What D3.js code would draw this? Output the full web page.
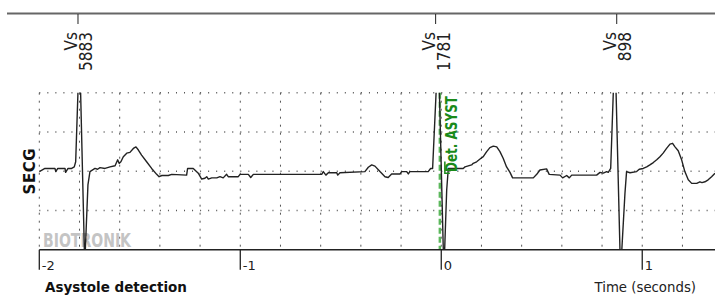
<!DOCTYPE html>
<html lang="en">
<head>
  <meta charset="utf-8">
  <title>Asystole detection</title>
  <script src="https://d3js.org/d3.v7.min.js"></script>
  <style>
    body { margin: 0; background: #fff; }
    svg { display: block; }
    .narrow { font-family: "Liberation Sans Narrow", "DejaVu Sans Condensed", sans-serif; }
    .din { font-family: "DejaVu Sans", sans-serif; }
  </style>
</head>
<body>
  <svg width="715" height="295"></svg>

  <script>
  // ECG samples (seconds, grid units)
  const ecgTime = [
    -2.000, -1.972, -1.922, -1.918, -1.908, -1.872, -1.869, -1.857, -1.839, -1.826, -1.819,
    -1.800, -1.774, -1.758, -1.748,
    -1.723, -1.710, -1.698, -1.673, -1.648, -1.623, -1.610, -1.603, -1.594, -1.582, -1.565,
    -1.549, -1.532, -1.519, -1.507, -1.491, -1.466, -1.441, -1.416, -1.404, -1.390, -1.358,
    -1.341, -1.267, -1.262, -1.234, -1.209, -1.192, -1.176, -1.167, -1.159, -1.142, -1.117,
    -1.101, -1.085, -1.068, -1.060, -1.010, -1.001, -0.960, -0.948, -0.935,
    -0.595, -0.587, -0.574, -0.562, -0.520, -0.515, -0.504, -0.380, -0.363, -0.346, -0.330,
    -0.305, -0.280, -0.264, -0.247, -0.205, -0.197, -0.172, -0.164, -0.156, -0.065, -0.053, -0.043,
    -0.015, 0.013, 0.027, 0.035,
    0.109, 0.118, 0.151, 0.159, 0.176, 0.193, 0.209, 0.226, 0.242, 0.259, 0.276, 0.292,
    0.308, 0.325, 0.342, 0.355, 0.458, 0.475, 0.491, 0.524, 0.537, 0.591, 0.604, 0.624,
    0.637, 0.649, 0.773, 0.790, 0.806, 0.823, 0.831, 0.843,
    0.864, 0.892, 0.914, 0.922,
    0.939, 0.972, 0.985, 1.005, 1.022, 1.038, 1.055, 1.072, 1.088, 1.104, 1.121, 1.138,
    1.151, 1.163, 1.179, 1.196, 1.212, 1.229, 1.246, 1.271, 1.287, 1.297, 1.312, 1.328,
    1.345, 1.362
  ];
  const ecgAmp = [
    -0.01, 0.07, 0.07, -0.01, 0.07, 0.07, -0.03, 0.07, 0.07, 0.11, 0.24,
    3.20, -2.39, -0.35, -0.01,
    0.07, 0.05, 0.09, 0.07, 0.11, 0.14, 0.29, 0.20, 0.24, 0.37, 0.46,
    0.48, 0.58, 0.62, 0.54, 0.41, 0.24, 0.07, -0.08, -0.14, -0.11, -0.11,
    -0.08, -0.10, 0.07, 0.07, -0.05, -0.20, -0.18, -0.14, -0.20, -0.17, -0.17,
    -0.14, -0.17, -0.08, -0.14, -0.14, -0.08, -0.08, -0.16, -0.08,
    -0.08, -0.01, -0.10, -0.04, -0.04, -0.10, -0.04, -0.01, 0.10, 0.16, 0.13,
    -0.01, -0.14, -0.16, -0.07, -0.07, -0.01, -0.01, -0.07, -0.01, -0.01, 0.07, 0.07,
    3.20, -2.59, -0.48, 0.07,
    0.07, 0.11, 0.16, 0.20, 0.24, 0.31, 0.37, 0.50, 0.60, 0.64, 0.62, 0.50,
    0.33, 0.11, -0.03, -0.17, -0.17, -0.08, 0.03, 0.06, -0.08, -0.10, -0.17, -0.11,
    -0.17, -0.10, -0.10, -0.03, -0.05, -0.01, -0.03, 0.07,
    3.20, -2.59, -0.56, -0.01,
    -0.04, -0.01, 0.05, 0.07, 0.11, 0.16, 0.22, 0.29, 0.37, 0.46, 0.58, 0.69,
    0.71, 0.62, 0.52, 0.29, -0.01, -0.22, -0.31, -0.31, -0.27, -0.29, -0.27, -0.22,
    -0.14, -0.05
  ];

  // marker channel at the top
  const markerTimes = [-1.8075, -0.028, 0.873];
  const markerNames = ["Vs", "Vs", "Vs"];
  const markerIntervals = ["5883", "1781", "898"];

  const detectTime = -0.007;
  const detectLabel = "Det. ASYST";

  const xTicks = [-2, -1, 0, 1];
  const gridTimes = d3.range(-2, 1.3, 0.2);
  const gridLevels = [-1, 0, 1, 2];

  const svg = d3.select("svg");
  const x = d3.scaleLinear().domain([-2, 1.362]).range([39.3, 715]);
  const y = d3.scaleLinear().domain([-2, 2]).range([249.7, 92.7]);

  // top marker line
  svg.append("line")
    .attr("x1", 7).attr("x2", 715).attr("y1", 13.5).attr("y2", 13.5)
    .attr("stroke", "#666").attr("stroke-width", 2);

  const mk = svg.selectAll(".marker")
    .data(markerTimes.map((t, i) => ({ t, name: markerNames[i], val: markerIntervals[i] })))
    .enter().append("g")
    .attr("class", "marker")
    .attr("transform", d => `translate(${x(d.t)},0)`);
  mk.append("line")
    .attr("y1", 14).attr("y2", 24)
    .attr("stroke", "#222").attr("stroke-width", 1);
  mk.append("text")
    .attr("class", "narrow")
    .attr("transform", "translate(-0.5,32) rotate(-90)")
    .attr("text-anchor", "end")
    .attr("font-size", 17).attr("fill", "#222")
    .text(d => d.name);
  mk.append("text")
    .attr("class", "narrow")
    .attr("transform", "translate(14.5,32) rotate(-90)")
    .attr("text-anchor", "end")
    .attr("font-size", 17).attr("fill", "#222")
    .text(d => d.val);

  // dotted grid
  svg.selectAll(".vgrid")
    .data(gridTimes)
    .enter().append("line")
    .attr("class", "vgrid")
    .attr("x1", d => x(d)).attr("x2", d => x(d))
    .attr("y1", y(2)).attr("y2", y(-2))
    .attr("stroke", "#555").attr("stroke-width", 1)
    .attr("stroke-dasharray", "2,6");

  svg.selectAll(".hgrid")
    .data(gridLevels)
    .enter().append("line")
    .attr("class", "hgrid")
    .attr("x1", x(-2)).attr("x2", 715)
    .attr("y1", d => y(d)).attr("y2", d => y(d))
    .attr("stroke", "#555").attr("stroke-width", 1.5)
    .attr("stroke-dasharray", "1,7.04");

  // watermark
  svg.append("text")
    .attr("class", "narrow")
    .attr("x", 43).attr("y", 246.5)
    .attr("font-size", 19).attr("font-weight", "bold")
    .attr("fill", "#c4c4c4")
    .attr("textLength", 88).attr("lengthAdjust", "spacingAndGlyphs")
    .text("BIOTRONIK");

  // detection marker
  svg.append("line")
    .attr("x1", x(detectTime)).attr("x2", x(detectTime))
    .attr("y1", y(2)).attr("y2", y(-2))
    .attr("stroke", "#5cb85c").attr("stroke-width", 2.5)
    .attr("stroke-dasharray", "6,3");

  // ECG trace
  svg.append("clipPath").attr("id", "plotclip")
    .append("rect")
    .attr("x", x(-2)).attr("y", y(2))
    .attr("width", 715 - x(-2)).attr("height", y(-2) - y(2));

  const line = d3.line()
    .x((d, i) => x(ecgTime[i]))
    .y(d => y(d));

  svg.append("path")
    .datum(ecgAmp)
    .attr("clip-path", "url(#plotclip)")
    .attr("d", line)
    .attr("fill", "none")
    .attr("stroke", "#222")
    .attr("stroke-width", 1.4)
    .attr("stroke-linejoin", "round");

  // detection label
  const lx = x(detectTime) + 17;
  svg.append("path")
    .attr("d", `M${lx - 12},${y(0.25)} V${y(-0.05)} H${lx - 7}`)
    .attr("fill", "none").attr("stroke", "#1a8a1a").attr("stroke-width", 1.5);
  svg.append("text")
    .attr("class", "narrow")
    .attr("transform", `translate(${lx},${y(-0.02)}) rotate(-90)`)
    .attr("font-size", 16).attr("font-weight", "bold")
    .attr("fill", "#1a8a1a")
    .attr("textLength", 76).attr("lengthAdjust", "spacingAndGlyphs")
    .text(detectLabel);

  // x axis
  svg.append("line")
    .attr("x1", x(-2)).attr("x2", 715)
    .attr("y1", y(-2)).attr("y2", y(-2))
    .attr("stroke", "#222").attr("stroke-width", 1.5);

  const tk = svg.selectAll(".xtick")
    .data(xTicks)
    .enter().append("g")
    .attr("class", "xtick")
    .attr("transform", d => `translate(${x(d)},${y(-2)})`);
  tk.append("line")
    .attr("y1", 0).attr("y2", 20)
    .attr("stroke", "#222").attr("stroke-width", 1.3);
  tk.append("text")
    .attr("class", "din")
    .attr("x", 2.5).attr("y", 20)
    .attr("font-size", 13).attr("fill", "#222")
    .text(d => d);

  svg.append("text")
    .attr("class", "din")
    .attr("x", 696).attr("y", 291.5)
    .attr("text-anchor", "end")
    .attr("font-size", 13.3).attr("fill", "#222")
    .text("Time (seconds)");

  svg.append("text")
    .attr("class", "din")
    .attr("x", 45).attr("y", 291.5)
    .attr("font-size", 13.5).attr("font-weight", "bold").attr("fill", "#111")
    .text("Asystole detection");

  // channel label
  svg.append("text")
    .attr("class", "din")
    .attr("transform", `translate(35,${y(0)}) rotate(-90)`)
    .attr("text-anchor", "middle")
    .attr("font-size", 15).attr("font-weight", "bold").attr("fill", "#111")
    .attr("letter-spacing", 0.5)
    .text("SECG");
  </script>
</body>
</html>
